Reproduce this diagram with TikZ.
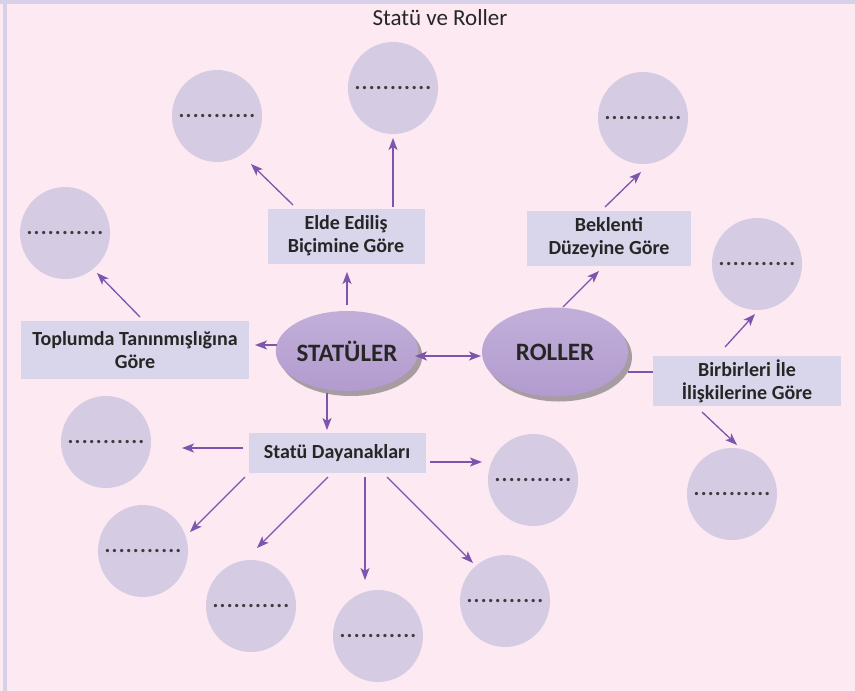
\documentclass[tikz,border=0pt]{standalone}
\usepackage{fontspec}
\setmainfont{Carlito}
\usetikzlibrary{arrows.meta,shadows,shapes.geometric}
\definecolor{bgpink}{HTML}{FCE9F1}
\definecolor{framelav}{HTML}{D6D0E8}
\definecolor{circfill}{HTML}{D5CCE4}
\definecolor{boxfill}{HTML}{D9D5EA}
\definecolor{ellfill}{HTML}{B29BCF}
\definecolor{arrcol}{HTML}{7D55AE}
\definecolor{txt}{HTML}{262626}
\newcommand{\mydot}{.\kern1.2pt}
\newcommand{\dotrow}{\makebox[0pt][c]{\fontsize{22}{22}\selectfont\bfseries\color{txt!90}\mydot\mydot\mydot\mydot\mydot\mydot\mydot\mydot\mydot\mydot.}}
\begin{document}
\begin{tikzpicture}[x=1pt,y=-1pt,
  blank/.style={ellipse,fill=circfill,minimum width=90pt,minimum height=92pt,inner sep=0pt},
  catbox/.style={rectangle,fill=boxfill,inner sep=0pt,align=center,text=txt,
    font={\fontsize{20}{23}\selectfont\bfseries}},
  mainell/.style={ellipse,inner sep=0pt,text=txt,top color=ellfill!80!white,bottom color=ellfill,
    font={\fontsize{25}{27}\selectfont\bfseries},
    drop shadow={shadow xshift=4pt,shadow yshift=-5pt,opacity=0.45,fill=black!75}},
  arr/.style={draw=arrcol,line width=1.3pt,-{Stealth[length=12pt,width=9pt,inset=3pt]}},
  dblarr/.style={draw=arrcol,line width=1.3pt,{Stealth[length=12pt,width=9pt,inset=3pt]}-{Stealth[length=12pt,width=9pt,inset=3pt]}},
  plain/.style={draw=arrcol,line width=1.3pt}]
\useasboundingbox (0,0) rectangle (855,691);
\fill[bgpink] (0,0) rectangle (855,691);
\fill[framelav] (0,0) rectangle (855,4);
\fill[framelav] (3,0) rectangle (7,691);

\node[font={\fontsize{23}{25}\selectfont},text=black!85] (title) at (440,18) {Statü ve Roller};

% main ellipses
\node[mainell,minimum width=136pt,minimum height=80pt] (stat) at (347,351) {STATÜLER};
\node[mainell,minimum width=146pt,minimum height=89pt] (rol) at (555,352) {ROLLER};

% category boxes
\node[catbox,minimum width=157pt,minimum height=55pt] (elde) at (346,236) {Elde Ediliş\\Biçimine Göre};
\node[catbox,minimum width=164pt,minimum height=55pt] (bek) at (609,238) {Beklenti\\Düzeyine Göre};
\node[catbox,minimum width=228pt,minimum height=58pt] (top) at (135,350) {Toplumda Tanınmışlığına\\Göre};
\node[catbox,minimum width=188pt,minimum height=50pt] (bir) at (747,381) {Birbirleri İle\\İlişkilerine Göre};
\node[catbox,minimum width=177pt,minimum height=40pt] (sd) at (337,453) {Statü Dayanakları};

% blank circles
\node[blank] (c1) at (217,116) {\dotrow};
\node[blank] (c2) at (393,88) {\dotrow};
\node[blank] (c3) at (643,118) {\dotrow};
\node[blank] (c4) at (65,233) {\dotrow};
\node[blank] (c5) at (757,264) {\dotrow};
\node[blank] (c6) at (732,494) {\dotrow};
\node[blank] (c7) at (106,442) {\dotrow};
\node[blank] (c8) at (143,551) {\dotrow};
\node[blank] (c9) at (251,606) {\dotrow};
\node[blank] (c10) at (378,636) {\dotrow};
\node[blank] (c11) at (505,601) {\dotrow};
\node[blank] (c12) at (533,480) {\dotrow};

% connectors
\draw[dblarr] ([shift={(68,5)}]stat.center) -- ([shift={(-74,4)}]rol.center);
\draw[arr] ([shift={(-70,-6)}]stat.center) -- ([shift={(120,-5)}]top.center);
\draw[arr] ([shift={(0,-46)}]stat.center) -- ([shift={(1,36)}]elde.center);
\draw[arr] ([shift={(-53,-31)}]elde.center) -- ([shift={(34,48)}]c1.center);
\draw[arr] ([shift={(47,-29)}]elde.center) -- ([shift={(0,50)}]c2.center);
\draw[arr] ([shift={(5,-33)}]top.center) -- ([shift={(32,40)}]c4.center);
\draw[arr] ([shift={(8,-45)}]rol.center) -- ([shift={(-10,33)}]bek.center);
\draw[arr] ([shift={(-4,-31)}]bek.center) -- ([shift={(-2,54)}]c3.center);
\draw[plain] ([shift={(73,20)}]rol.center) -- ([shift={(-94,-9)}]bir.center);
\draw[arr] ([shift={(-22,-34)}]bir.center) -- ([shift={(-2,50)}]c5.center);
\draw[arr] ([shift={(-45,31)}]bir.center) -- ([shift={(5,-49)}]c6.center);
\draw[arr] ([shift={(-20,42)}]stat.center) -- ([shift={(-10,-23)}]sd.center);
\draw[arr] ([shift={(-94,-5)}]sd.center) -- ([shift={(76,6)}]c7.center);
\draw[arr] ([shift={(-92,24)}]sd.center) -- ([shift={(47,-19)}]c8.center);
\draw[arr] ([shift={(-9,24)}]sd.center) -- ([shift={(6,-58)}]c9.center);
\draw[arr] ([shift={(28,24)}]sd.center) -- ([shift={(-13,-56)}]c10.center);
\draw[arr] ([shift={(50,24)}]sd.center) -- ([shift={(-32,-38)}]c11.center);
\draw[arr] ([shift={(93,9)}]sd.center) -- ([shift={(-51,-18)}]c12.center);
\end{tikzpicture}
\end{document}
